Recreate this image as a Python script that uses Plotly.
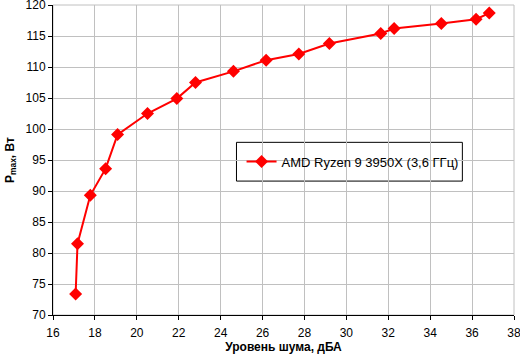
import plotly.graph_objects as go

noise = [17.08, 17.17, 17.78, 18.51, 19.08, 20.51, 21.91, 22.80, 24.61, 26.17, 27.73, 29.19, 31.64, 32.28, 34.53, 36.19, 36.82]
power = [73.4, 81.5, 89.3, 93.6, 99.1, 102.5, 104.9, 107.5, 109.3, 111.1, 112.1, 113.8, 115.4, 116.2, 117.0, 117.7, 118.7]
series_name = "AMD Ryzen 9 3950X (3,6 ГГц)"

fig = go.Figure()
fig.add_trace(go.Scatter(
    x=noise, y=power, mode="lines+markers", name=series_name,
    line=dict(color="#ff0000", width=2),
    marker=dict(symbol="diamond", size=10, color="#ff0000"),
))

font = "Liberation Sans, Arial, sans-serif"
fig.update_layout(
    width=520, height=357,
    margin=dict(l=53, r=6, t=5, b=42),
    paper_bgcolor="white", plot_bgcolor="white",
    font=dict(family=font, size=12, color="black"),
    showlegend=True,
    legend=dict(x=0.409, y=0.495, xanchor="left", yanchor="middle",
                borderwidth=0, bgcolor="rgba(0,0,0,0)",
                font=dict(size=13)),
    xaxis=dict(range=[15.9999, 38.0001], tickvals=list(range(16, 39, 2)),
               showgrid=True, gridcolor="#c0c0c0", automargin=False,
               showline=True, linecolor="black", ticks="outside", ticklen=4,
               tickcolor="black", zeroline=False, ticklabeloverflow="allow",
               ticklabelstandoff=3,
               title=dict(text="<b>Уровень шума, дБА</b>", standoff=2,
                          font=dict(size=12))),
    yaxis=dict(range=[69.9999, 120.0001], tickvals=list(range(70, 121, 5)),
               showgrid=True, gridcolor="#c0c0c0", automargin=False,
               showline=True, linecolor="black", ticks="outside", ticklen=4,
               tickcolor="black", zeroline=False, ticklabeloverflow="allow",
               title=dict(text="<b>P<sub>max</sub>, Вт</b>", standoff=8,
                          font=dict(size=12))),
)
# gray frame on top/right
fig.add_shape(type="rect", xref="paper", yref="paper", x0=0, y0=0, x1=1, y1=1,
              line=dict(color="#c0c0c0", width=1), layer="below")
# legend box
fig.add_shape(type="rect", xref="paper", yref="paper", x0=0.398, y0=0.432, x1=0.888, y1=0.557,
              line=dict(color="black", width=1), fillcolor="white", layer="below")
fig.write_html("out.html")
